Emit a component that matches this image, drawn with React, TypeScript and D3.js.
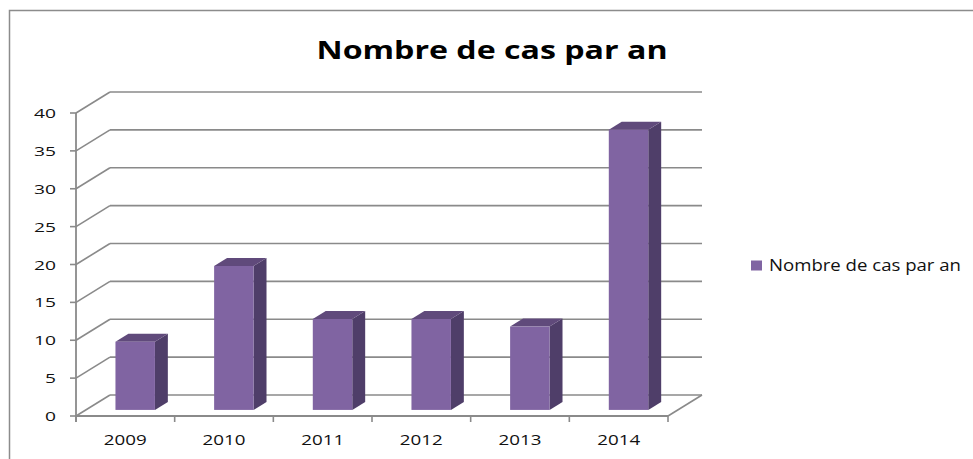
import * as d3 from 'd3';

// ── Données ─────────────────────────────────────────────
const YEARS = ['2009', '2010', '2011', '2012', '2013', '2014'];
const CASES = [9, 19, 12, 12, 11, 37];
const Y_TICKS = [0, 5, 10, 15, 20, 25, 30, 35, 40];
const TITLE = 'Nombre de cas par an';
const SERIES = 'Nombre de cas par an';

// Palette (violet Excel)
const FRONT = '#8064A2';
const TOP = '#604A7B';
const SIDE = '#4F3E69';
const GRID = '#8A8A8A';
const INK = '#111';
const FONT = '"Open Sans", "Liberation Sans", sans-serif';

const W = 973;
const H = 459;

// Plan avant + profondeur 3D
const X0 = 76, X1 = 668;
const Y0 = 416, Y1 = 113;
const DX = 34, DY = -21;        // décalage fond
const F0 = 0.29, F1 = 0.67;     // profondeur des colonnes
const BAR_FRAC = 0.4;

export default function App() {
  const x = d3.scaleBand<string>().domain(YEARS).range([X0, X1]).paddingInner(0).paddingOuter(0);
  const y = d3.scaleLinear().domain([0, 40]).range([Y0, Y1]);
  const bw = x.bandwidth() * BAR_FRAC;
  const dd = F1 - F0;

  const poly = (pts: [number, number][]) => pts.map(p => p.join(',')).join(' ');

  const bounds = [...YEARS.map(d => x(d) as number), X1];

  return (
    <svg width={W} height={H} style={{ position: 'absolute', left: 0, top: 0, background: '#fff' }}>
      {/* cadre */}
      <rect x={9.5} y={10.5} width={1000} height={500} fill="none" stroke="#8C8C8C" strokeWidth={1.5} />

      {/* titre */}
      <text x={492} y={59} textAnchor="middle" fontFamily={FONT} fontWeight={700} fontSize={25}
        textLength={351} lengthAdjust="spacingAndGlyphs" fill="#000">{TITLE}</text>

      {/* quadrillage : paroi latérale + fond */}
      {Y_TICKS.map(t => (
        <g key={t} stroke={GRID} strokeWidth={1.6} fill="none">
          <line x1={X0} y1={y(t)} x2={X0 + DX} y2={y(t) + DY} />
          <line x1={X0 + DX} y1={y(t) + DY} x2={X1 + DX} y2={y(t) + DY} />
        </g>
      ))}
      {/* sol */}
      <line x1={X1 + DX} y1={y(0) + DY} x2={X1} y2={y(0)} stroke={GRID} strokeWidth={1.6} />

      {/* axes */}
      <line x1={X0} y1={Y1} x2={X0} y2={Y0 + 6} stroke={GRID} strokeWidth={1.8} />
      <line x1={X0} y1={Y0} x2={X1} y2={Y0} stroke={GRID} strokeWidth={1.8} />
      {Y_TICKS.map(t => (
        <line key={'yt' + t} x1={X0 - 6} y1={y(t)} x2={X0} y2={y(t)} stroke={GRID} strokeWidth={1.6} />
      ))}
      {bounds.map((b, i) => (
        <line key={'xt' + i} x1={b} y1={Y0} x2={b} y2={Y0 + 6} stroke={GRID} strokeWidth={1.6} />
      ))}

      {/* colonnes 3D */}
      {YEARS.map((yr, i) => {
        const bx = (x(yr) as number) + (x.bandwidth() - bw) / 2 + F0 * DX;
        const yt = y(CASES[i]) + F0 * DY;
        const yb = y(0) + F0 * DY;
        const ox = dd * DX, oy = dd * DY;
        return (
          <g key={yr}>
            <polygon points={poly([[bx + bw, yt], [bx + bw + ox, yt + oy], [bx + bw + ox, yb + oy], [bx + bw, yb]])} fill={SIDE} />
            <polygon points={poly([[bx, yt], [bx + bw, yt], [bx + bw + ox, yt + oy], [bx + ox, yt + oy]])} fill={TOP} />
            <rect x={bx} y={yt} width={bw} height={yb - yt} fill={FRONT} />
          </g>
        );
      })}

      {/* libellés Y */}
      {Y_TICKS.map(t => (
        <text key={'yl' + t} x={56} y={y(t) + 5} textAnchor="end" fontFamily={FONT} fontSize={13.5} fill={INK}
          textLength={String(t).length * 11} lengthAdjust="spacingAndGlyphs">{t}</text>
      ))}

      {/* libellés X */}
      {YEARS.map(yr => (
        <text key={'xl' + yr} x={(x(yr) as number) + x.bandwidth() / 2} y={445} textAnchor="middle"
          fontFamily={FONT} fontSize={15} fill={INK} textLength={43} lengthAdjust="spacingAndGlyphs">{yr}</text>
      ))}

      {/* légende */}
      <rect x={751} y={260.5} width={11} height={10} fill={FRONT} />
      <text x={769} y={271} fontFamily={FONT} fontSize={15.5} fill={INK} textLength={192}
        lengthAdjust="spacingAndGlyphs">{SERIES}</text>
    </svg>
  );
}
